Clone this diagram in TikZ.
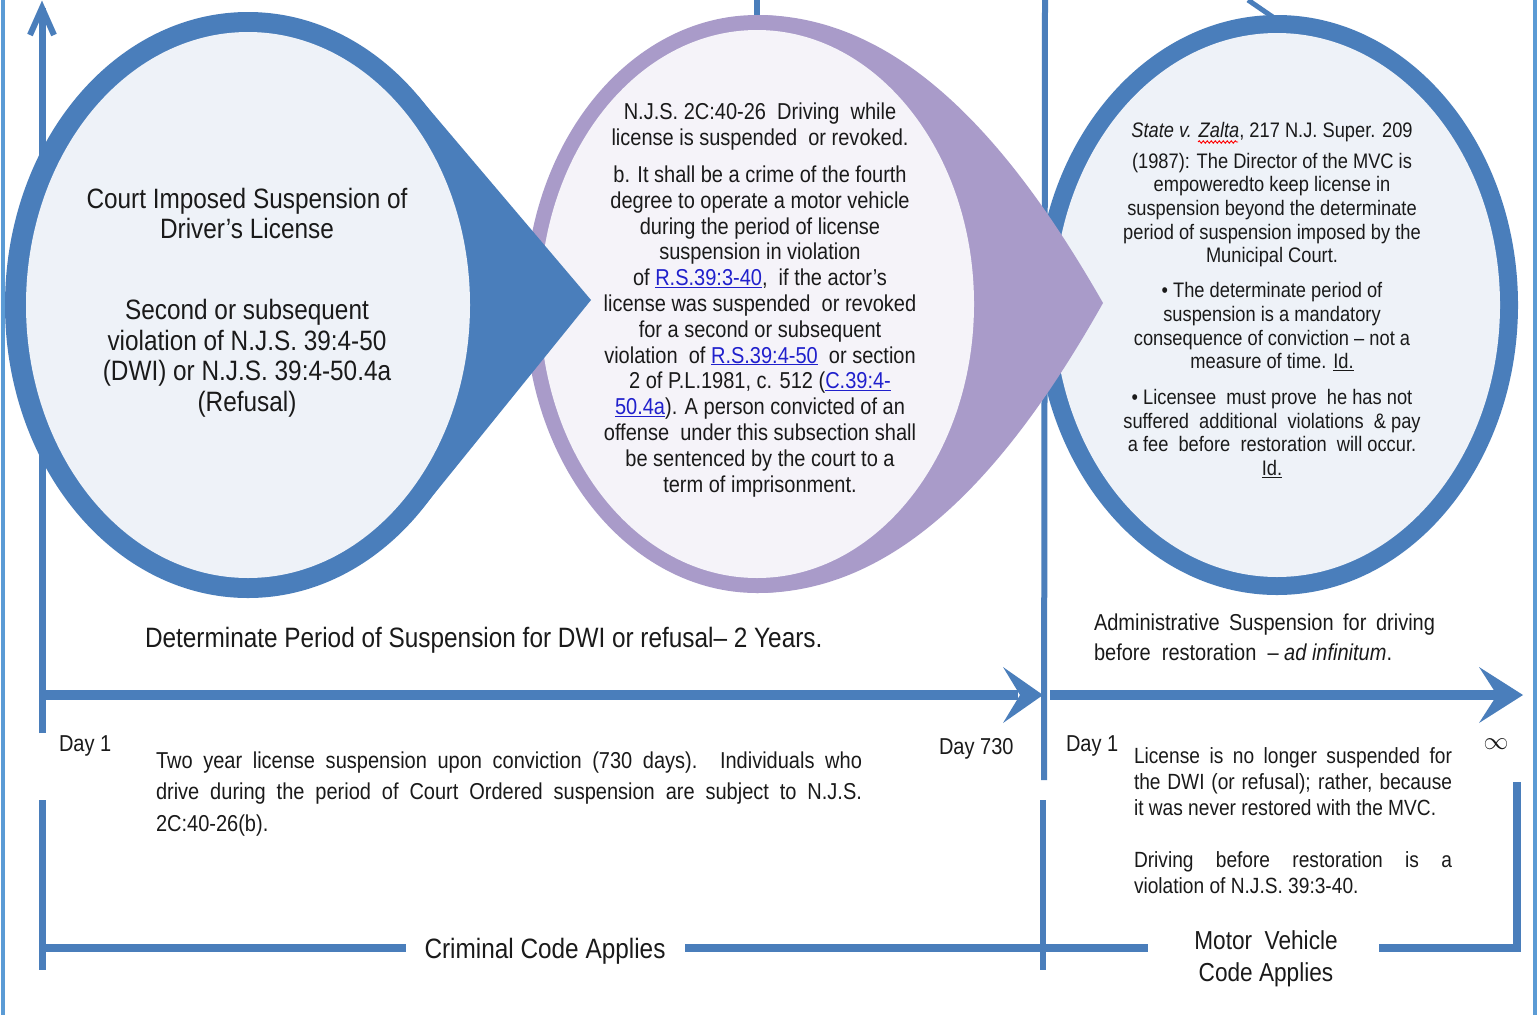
\documentclass[tikz,border=0pt]{standalone}
\usepackage{fontspec}
\setmainfont[FakeStretch=0.87]{Liberation Sans}
\usetikzlibrary{decorations.pathmorphing}
\definecolor{bl}{HTML}{4A7EBB}
\definecolor{framec}{HTML}{5B9BD5}
\definecolor{pur}{HTML}{A99BC9}
\definecolor{fillb}{HTML}{EEF2F8}
\definecolor{fillp}{HTML}{F5F3F9}
\definecolor{txt}{HTML}{1A1A1A}
\definecolor{lnk}{HTML}{2020CC}
\newcommand{\lk}[1]{\textcolor{lnk}{\underline{#1}}}
\begin{document}
\begin{tikzpicture}[x=1pt,y=-1pt,
  lbl/.style={text=txt, inner sep=0pt, outer sep=0pt},
  bline/.style={draw=bl, line width=#1},
  bline/.default=7]
\useasboundingbox (0,0) rectangle (1538,1015);
\fill[white] (0,0) rectangle (1538,1015);
% frame
\draw[framec, line width=4] (3,0) -- (3,1015);
\draw[framec, line width=4] (1535,0) -- (1535,1015);
% background stubs
\coordinate (ms1) at (757,0); \coordinate (ms2) at (757,60);
\draw[bline=6] (ms1) -- (ms2);
\coordinate (ds1) at (1248,0); \coordinate (ds2) at (1280,22);
\draw[bline=5] (ds1) -- (ds2);
\coordinate (v2a) at (1045,0); \coordinate (v2b) at (1044,780);
\draw[bline=6] (v2a) -- (v2b);
% vertical axis
\coordinate (va) at (42,733); \coordinate (vt) at (42,8);
\draw[bline=7] (va) -- (vt);
\draw[bline=6, miter limit=10] (30,35) -- (vt) -- (54,35);
% right circle
\fill[bl] (1277,305) ellipse [x radius=241pt, y radius=290pt];
\fill[fillb] (1277,305) ellipse [x radius=223pt, y radius=272pt];
% middle circle
\fill[pur] (757,304) ellipse [x radius=232pt, y radius=289pt];
\fill[pur] (757,15) .. controls (900,15) and (1010,140) .. (1103,303)
   .. controls (1010,468) and (900,593) .. (757,593) -- cycle;
\fill[fillp] (757,304) ellipse [x radius=217pt, y radius=274pt];
% left circle
\fill[bl] (248,305) ellipse [x radius=243pt, y radius=293pt];
\fill[bl] (418,96) -- (591,300) -- (422,509) -- (248,305) -- cycle;
\fill[fillb] (248,305) ellipse [x radius=222pt, y radius=273pt];
% horizontal arrows
\coordinate (h1a) at (42,695); \coordinate (h1b) at (1018,695);
\draw[bline=10] (h1a) -- (h1b);
\fill[bl] (1043,695) -- (1003,667) -- (1020,695) -- (1003,723) -- cycle;
\coordinate (h2a) at (1050,695); \coordinate (h2b) at (1497,695);
\draw[bline=10] (h2a) -- (h2b);
\fill[bl] (1523,695) -- (1479,667) -- (1497,695) -- (1479,723) -- cycle;
% lower verticals and brackets
\coordinate (l1a) at (42,800); \coordinate (l1b) at (42,970);
\draw[bline=7] (l1a) -- (l1b);
\coordinate (l2a) at (1043,800); \coordinate (l2b) at (1043,970);
\draw[bline=6] (l2a) -- (l2b);
\coordinate (b1a) at (42,948); \coordinate (b1b) at (406,948);
\draw[bline=8] (b1a) -- (b1b);
\coordinate (b2a) at (685,948); \coordinate (b2b) at (1148,948);
\draw[bline=8] (b2a) -- (b2b);
\coordinate (b3a) at (1379,948); \coordinate (b3b) at (1517,948); \coordinate (b3c) at (1517,782);
\draw[bline=8] (b3a) -- (b3b) -- (b3c);

% texts left circle
\node[lbl, align=center, font=\fontsize{28}{30}\selectfont] (c1a) at (247,213)
  {Court Imposed Suspension of\\Driver’s License};
\node[lbl, align=center, font=\fontsize{28}{30.5}\selectfont] (c1b) at (247,358)
  {Second or subsequent\\violation of N.J.S. 39:4-50\\(DWI) or N.J.S. 39:4-50.4a\\(Refusal)};
% middle
\node[lbl, align=center, font=\fontsize{23}{25.8}\selectfont] (c2) at (760,300)
  {N.J.S. 2C:40-26 \ Driving \ while\\license is suspended \ or revoked.\\[11pt]
   b. It shall be a crime of the fourth\\degree to operate a motor vehicle\\
   during the period of license\\suspension in violation\\
   of \lk{R.S.39:3-40}, \ if the actor’s\\license was suspended \ or revoked\\
   for a second or subsequent\\violation \ of \lk{R.S.39:4-50} \ or section\\
   2 of P.L.1981, c. 512 (\lk{C.39:4-}\\\lk{50.4a}). A person convicted of an\\
   offense \ under this subsection shall\\be sentenced by the court to a\\term of imprisonment.};
% right
\node[lbl, align=center, font=\fontsize{21}{23.7}\selectfont] (c3) at (1272,300)
  {\textit{State v. Zalta}, 217 N.J. Super. 209\\[7pt]
   (1987): The Director of the MVC is\\empoweredto keep license in\\
   suspension beyond the determinate\\period of suspension imposed by the\\Municipal Court.\\[11pt]
   • The determinate period of\\suspension is a mandatory\\consequence of conviction – not a\\
   measure of time. \underline{Id.}\\[12pt]
   • Licensee \ must prove \ he has not\\suffered \ additional \ violations \ \& pay\\
   a fee \ before \ restoration \ will occur.\\\underline{Id.}};
\coordinate (zw1) at (1198,142); \coordinate (zw2) at (1238,142);
\draw[red, line width=0.9, decorate, decoration={snake, amplitude=1.2pt, segment length=4pt}] (zw1) -- (zw2);
% timeline texts
\node[lbl, anchor=west, font=\fontsize{28}{30}\selectfont] (det) at (145,640)
  {Determinate Period of Suspension for DWI or refusal– 2 Years.};
\node[lbl, anchor=west, align=left, font=\fontsize{23}{30}\selectfont] (adm) at (1094,637)
  {\makebox[341pt][s]{Administrative Suspension for driving}\\before \ restoration \ – \textit{ad infinitum}.};
\node[lbl, anchor=west, font=\fontsize{23}{26}\selectfont] (d1) at (59,746) {Day 1};
\node[lbl, anchor=west, font=\fontsize{23}{26}\selectfont] (d730) at (939,749) {Day 730};
\node[lbl, anchor=west, font=\fontsize{23}{26}\selectfont] (d1b) at (1066,746) {Day 1};
\node[lbl, font=\fontsize{30}{30}\selectfont] (inf) at (1496,744) {$\infty$};
\node[lbl, anchor=west, align=left, font=\fontsize{23}{31.5}\selectfont] (two) at (156,794)
  {\makebox[706pt][s]{Two year license suspension upon conviction (730 days). Individuals who}\\
   \makebox[706pt][s]{drive during the period of Court Ordered suspension are subject to N.J.S.}\\
   2C:40-26(b).};
\node[lbl, anchor=west, align=left, font=\fontsize{22}{26}\selectfont] (lic) at (1134,821)
  {\makebox[318pt][s]{License is no longer suspended for}\\
   \makebox[318pt][s]{the DWI (or refusal); rather, because}\\
   it was never restored with the MVC.\\[26pt]
   \makebox[318pt][s]{Driving before restoration is a}\\
   violation of N.J.S. 39:3-40.};
\node[lbl, font=\fontsize{28}{30}\selectfont] (crim) at (545,951) {Criminal Code Applies};
\node[lbl, align=center, font=\fontsize{26}{32}\selectfont] (mvc) at (1266,959) {Motor \ Vehicle\\Code Applies};
\end{tikzpicture}
\end{document}
